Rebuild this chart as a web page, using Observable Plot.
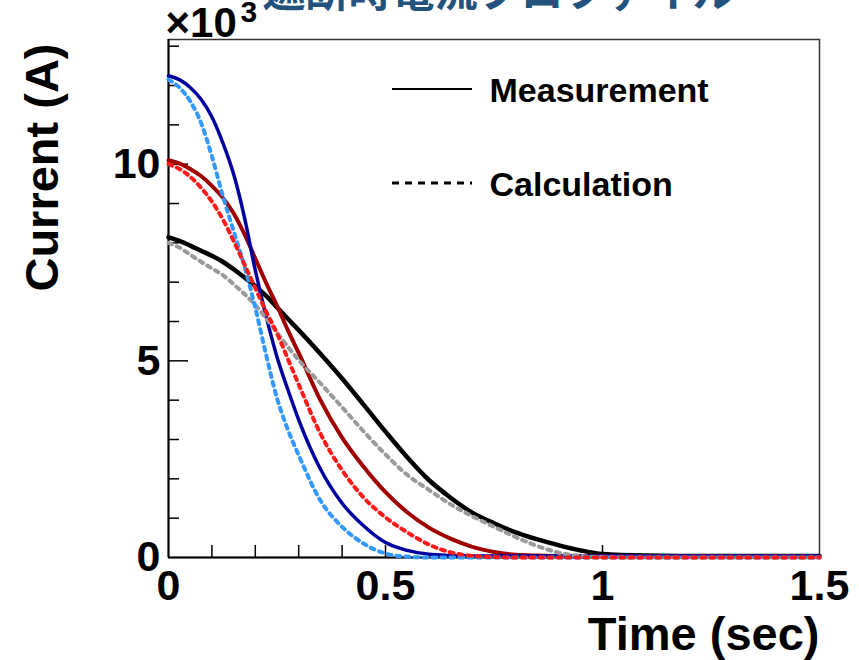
<!DOCTYPE html>
<html><head><meta charset="utf-8">
<script src="https://cdn.jsdelivr.net/npm/d3@7"></script>
<script src="https://cdn.jsdelivr.net/npm/@observablehq/plot@0.6"></script>
<style>
html,body{margin:0;padding:0;background:#fff;}
#chart{position:relative;width:859px;height:660px;overflow:hidden;}
</style></head><body><div id="chart"></div>
<script>
// ---- data (current in kA, i.e. ×10^3 A) ----
const time = [0,0.025,0.05,0.075,0.1,0.125,0.15,0.175,0.2,0.225,0.25,0.275,0.3,0.35,0.4,0.45,0.5,0.55,0.6,0.65,0.7,0.75,0.8,0.85,0.9,0.95,1.0,1.1,1.2,1.3,1.4,1.5];
const measBlack = [8.14,8.05,7.93,7.8,7.67,7.52,7.33,7.12,6.9,6.65,6.36,6.07,5.78,5.18,4.55,3.88,3.2,2.55,1.97,1.52,1.14,0.87,0.64,0.46,0.31,0.18,0.09,0.05,0.04,0.04,0.04,0.04];
const measRed   = [10.1,10.02,9.88,9.7,9.45,9.15,8.75,8.22,7.6,6.98,6.4,5.78,5.2,4.0,3.05,2.3,1.66,1.15,0.76,0.48,0.27,0.14,0.07,0.05,0.04,0.04,0.04,0.04,0.04,0.04,0.04,0.04];
const measBlue  = [12.25,12.15,11.95,11.65,11.2,10.55,9.75,8.65,7.3,6.13,5.1,4.27,3.5,2.25,1.38,0.8,0.38,0.18,0.08,0.05,0.04,0.04,0.04,0.04,0.04,0.04,0.04,0.04,0.04,0.04,0.04,0.04];
const calcGrey  = [8.0,7.88,7.7,7.52,7.35,7.18,6.95,6.7,6.42,6.08,5.72,5.36,5.02,4.43,3.82,3.2,2.62,2.1,1.72,1.35,1.05,0.78,0.52,0.29,0.12,0.04,0.01,0,0,0,0,0];
const calcRed   = [10.0,9.88,9.68,9.4,9.05,8.6,8.05,7.45,6.85,6.25,5.7,5.05,4.4,3.15,2.22,1.52,1.02,0.64,0.33,0.13,0.04,0.01,0,0,0,0,0,0,0,0,0,0];
const calcBlue  = [12.15,11.95,11.6,11.05,10.2,9.2,8.3,7.4,6.35,5.15,4.05,3.25,2.6,1.45,0.78,0.35,0.1,0.02,0,0,0,0,0,0,0,0,0,0,0,0,0,0];

const xTickValues = [0, 0.5, 1, 1.5];
const xTickMarks = [0.1, 0.2, 0.3, 0.4, 0.5, 1.0];
const yTickValues = [0, 5, 10];
const yMinorTicks = [1,2,3,4,6,7,8,9,11,12,13];
const yMajorTicks = [5, 10];
const title = "遮断時電流プロファイル";
const xLabel = "Time (sec)";
const yLabel = "Current (A)";
const exponentBase = "×10";
const exponentPower = "3";
const legendLabels = ["Measurement", "Calculation"];

const series = [
  {values: measBlack, color: "#000000", width: 4.5, dash: null},
  {values: measRed,   color: "#a00000", width: 4,   dash: null},
  {values: measBlue,  color: "#0000a0", width: 3.5, dash: null},
  {values: calcGrey,  color: "#9a9a9a", width: 4,   dash: "4,5"},
  {values: calcBlue,  color: "#3399ff", width: 4,   dash: "4,5"},
  {values: calcRed,   color: "#ff1a1a", width: 4,   dash: "4,5"}
];

const font = "'Liberation Sans', Arial, Helvetica, sans-serif";
const W = 859, H = 660, mL = 168, mR = 40, mT = 39, mB = 103;

const lineMarks = series.map(s => Plot.line(
  time.map((t, i) => ({t, I: s.values[i]})),
  {x: "t", y: "I", stroke: s.color, strokeWidth: s.width, strokeDasharray: s.dash, curve: "monotone-x"}
));

const chart = Plot.plot({
  width: W, height: H,
  marginLeft: mL, marginRight: mR, marginTop: mT, marginBottom: mB,
  x: {domain: [0, 1.5], axis: null},
  y: {domain: [0, 13.17], axis: null},
  style: {fontFamily: font, background: "#fff", overflow: "visible", color: "#000"},
  marks: [
    Plot.frame({stroke: "#333", strokeWidth: 1.5}),
    Plot.ruleX([0], {stroke: "#000", strokeWidth: 2}),
    Plot.ruleY([0], {stroke: "#000", strokeWidth: 2}),
    Plot.axisX({ticks: xTickMarks, tickSize: -12, tickFormat: () => "", label: null, strokeWidth: 1.5}),
    Plot.axisX({ticks: xTickValues, tickSize: 0, tickPadding: 12, tickFormat: d => String(d), label: null,
      fontSize: 43, fontWeight: "bold", fill: "#000"}),
    Plot.axisY({ticks: yMinorTicks, tickSize: -11, tickFormat: () => "", label: null, strokeWidth: 1.5}),
    Plot.axisY({ticks: yMajorTicks, tickSize: -20, tickFormat: () => "", label: null, strokeWidth: 1.5}),
    Plot.axisY({ticks: yTickValues, tickSize: 0, tickPadding: 8, tickFormat: d => String(d), label: null,
      fontSize: 43, fontWeight: "bold", fill: "#000"}),
    ...lineMarks,
    Plot.text([xLabel], {frameAnchor: "bottom-right", dy: 77, textAnchor: "end", lineAnchor: "middle",
      fontSize: 47, fontWeight: "bold", fill: "#000"}),
    Plot.text([yLabel], {frameAnchor: "top-left", rotate: -90, dx: -126, dy: 4, textAnchor: "end", lineAnchor: "middle",
      fontSize: 47, fontWeight: "bold", fill: "#000"}),
    Plot.text([exponentBase], {frameAnchor: "top-left", dx: -3, dy: -16, textAnchor: "start", lineAnchor: "middle",
      fontSize: 42, fontWeight: "bold", fill: "#000"}),
    Plot.text([exponentPower], {frameAnchor: "top-left", dx: 72, dy: -27, textAnchor: "start", lineAnchor: "middle",
      fontSize: 30, fontWeight: "bold", fill: "#000"}),
    Plot.text([title], {frameAnchor: "top-left", dx: 94, dy: -46, textAnchor: "start", lineAnchor: "middle",
      fontSize: 43, fontWeight: "bold", fill: "#23527c", fontFamily: "'Noto Sans CJK JP', sans-serif"}),
    Plot.text([legendLabels[0]], {frameAnchor: "top-left", dx: 321, dy: 52, textAnchor: "start", lineAnchor: "middle",
      fontSize: 34, fontWeight: "bold", fill: "#000"}),
    Plot.text([legendLabels[1]], {frameAnchor: "top-left", dx: 321, dy: 146, textAnchor: "start", lineAnchor: "middle",
      fontSize: 34, fontWeight: "bold", fill: "#000"})
  ]
});

// legend swatches
const svg = d3.select(chart);
const lg = svg.append("g");
lg.append("line").attr("x1", mL + 224).attr("x2", mL + 304).attr("y1", mT + 50).attr("y2", mT + 50)
  .attr("stroke", "#000").attr("stroke-width", 2);
lg.append("line").attr("x1", mL + 224).attr("x2", mL + 304).attr("y1", mT + 144).attr("y2", mT + 144)
  .attr("stroke", "#000").attr("stroke-width", 3).attr("stroke-dasharray", "7,6");

document.getElementById("chart").appendChild(chart);
</script>
</body></html>
